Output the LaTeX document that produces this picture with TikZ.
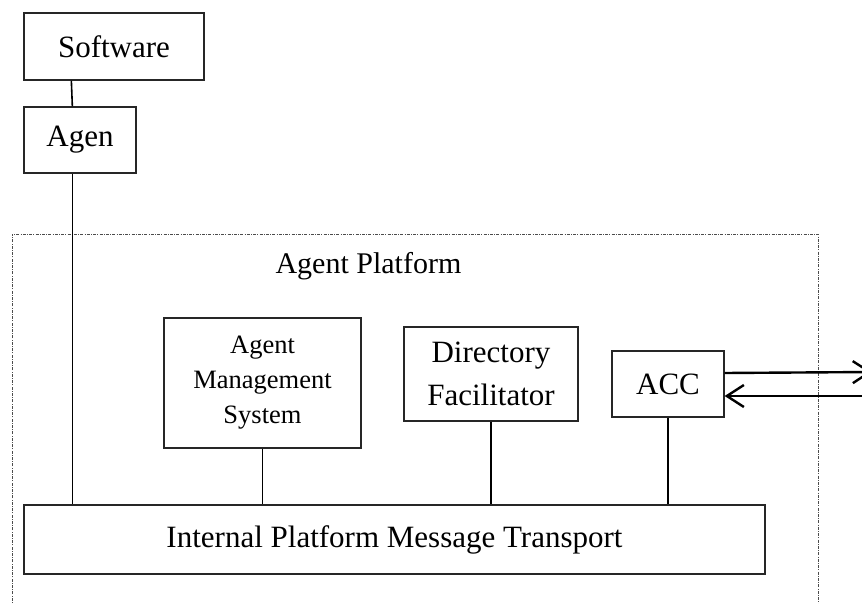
\documentclass[tikz,border=0pt]{standalone}
\usepackage{fontspec}
\setmainfont{Liberation Serif}
\usetikzlibrary{arrows.meta}
\tikzset{
  box/.style={draw=black!85, line width=1.3pt, inner sep=0pt, align=center,
    font=\fontsize{31}{43}\selectfont},
  link/.style={draw=black, line width=1.6pt},
  msg/.style={draw=black, line width=2.4pt,
    -{Straight Barb[length=17pt, width=22pt, line width=2.4pt]}},
  platform/.style={draw=black!70, line width=0.9pt,
    dash pattern=on 3pt off 1.2pt on 1pt off 1.2pt},
}
\begin{document}
\begin{tikzpicture}[x=1pt, y=-1pt]
\clip (0,0) rectangle (862,604);
\fill[white] (0,0) rectangle (862,604);
% platform frame (open at the bottom of the picture)
\draw[platform] (12,620) -- (12,234) -- (818,234) -- (818,620);
\node[anchor=base west, font=\fontsize{30}{36}\selectfont] (plat) at (272,273) {Agent Platform};
% boxes
\node[box, minimum width=180pt, minimum height=67pt] (sw) at (114,46.5) {Software};
\node[box, minimum width=112pt, minimum height=66pt] (ag) at (80,140) {Agen};
\node[box, minimum width=197pt, minimum height=130pt,
      font=\fontsize{26.5}{35}\selectfont] (ams) at (262.5,383) {Agent\\Management\\System};
\node[box, minimum width=174pt, minimum height=94pt] (df) at (491,374) {Directory\\Facilitator};
\node[box, minimum width=112pt, minimum height=66pt] (acc) at (668,384) {ACC};
\node[box, minimum width=741pt, minimum height=69pt] (tr) at (394.5,539.5) {Internal Platform Message Transport};
% connectors
\draw[link] ([xshift=48pt]sw.south west) -- ([xshift=49pt]ag.north west);
\draw[link] ([xshift=49pt]ag.south west) coordinate (a1) -- (a1 |- tr.north);
\draw[link] (ams.south) -- (ams.south |- tr.north);
\draw[link] (df.south) -- (df.south |- tr.north);
\draw[link] (acc.south) -- (acc.south |- tr.north);
% message arrows
\coordinate (outA) at (872,372);
\coordinate (inB) at (880,396);
\draw[msg] ([yshift=11pt]acc.east) -- (outA);
\draw[msg] (inB) -- (acc.east |- inB);
\end{tikzpicture}
\end{document}
